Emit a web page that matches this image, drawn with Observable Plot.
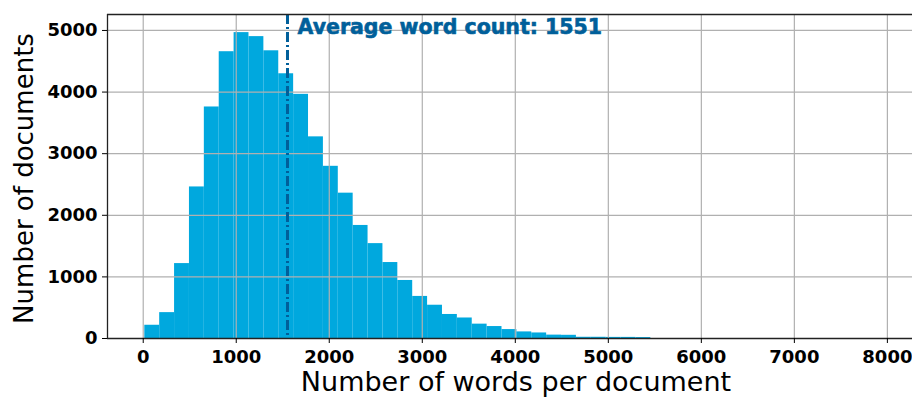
<!DOCTYPE html>
<html><head><meta charset="utf-8">
<script src="https://cdn.jsdelivr.net/npm/d3@7"></script>
<script src="https://cdn.jsdelivr.net/npm/@observablehq/plot@0.6"></script>
<style>body{margin:0;background:#fff} svg{display:block}</style>
</head><body><div id="chart"></div>
<script>
// Histogram bin lower/upper edges (words per document)
const binEdges = [17,177,337,497,657,817,977,1137,1297,1457,1617,1777,1937,2097,2257,2417,2577,2737,2897,3057,3217,3377,3537,3697,3857,4017,4177,4337,4497,4657,4817,4977,5137,5297,5457];
// Number of documents in each bin
const counts = [215,420,1216,2460,3758,4655,4965,4900,4670,4297,3963,3273,2795,2359,1835,1540,1233,942,683,540,390,333,233,194,145,107,90,55,52,20,20,18,18,15];
const averageWordCount = 1551;
const xTicks = [0,1000,2000,3000,4000,5000,6000,7000,8000];
const yTicks = [0,1000,2000,3000,4000,5000];
const xLabel = "Number of words per document";
const yLabel = "Number of documents";
const avgLabel = "Average word count: " + averageWordCount;

const bins = counts.map((c, i) => ({x1: binEdges[i], x2: binEdges[i + 1], count: c}));
const xDomain = [-384, 8270];
const yDomain = [0, 5259];
const spine = {stroke: "#222", strokeWidth: 1.3};

const chart = Plot.plot({
  width: 912, height: 398,
  marginLeft: 107, marginRight: 0, marginTop: 14, marginBottom: 60,
  style: {fontFamily: "DejaVu Sans", background: "#fff", color: "#000"},
  x: {domain: xDomain},
  y: {domain: yDomain},
  marks: [
    Plot.rectY(bins, {x1: "x1", x2: "x2", y: "count", fill: "#00A8DE"}),
    Plot.gridX(xTicks, {stroke: "#b0b0b0", strokeOpacity: 1, strokeWidth: 1.2}),
    Plot.gridY(yTicks, {stroke: "#b0b0b0", strokeOpacity: 1, strokeWidth: 1.2}),
    Plot.ruleX([averageWordCount], {stroke: "#005F9A", strokeWidth: 3, strokeDasharray: "10,3,2,3"}),
    Plot.ruleX([xDomain[0]], spine),
    Plot.ruleY([yDomain[0]], spine),
    Plot.ruleY([yDomain[1]], spine),
    Plot.axisX(xTicks, {tickSize: 5, tickPadding: 7, fontSize: 18, fontWeight: "bold", label: null, tickFormat: d => String(d)}),
    Plot.axisY(yTicks, {tickSize: 5, tickPadding: 5, fontSize: 18, fontWeight: "bold", label: null, tickFormat: d => String(d)}),
    Plot.text([xLabel], {text: d => d, frameAnchor: "bottom", textAnchor: "middle", dx: 6, dy: 44, fontSize: 27, lineAnchor: "middle"}),
    Plot.text([yLabel], {text: d => d, frameAnchor: "left", textAnchor: "middle", rotate: -90, dx: -83, dy: 2, fontSize: 26, lineAnchor: "middle"}),
    Plot.text([{x: averageWordCount, label: avgLabel}], {x: "x", text: "label", frameAnchor: "top", textAnchor: "start", lineAnchor: "top", dx: 10, dy: 5, fontSize: 20.5, fontWeight: "bold", fill: "#005F9A", stroke: "#005F9A", strokeWidth: 0.6})
  ]
});
document.getElementById("chart").appendChild(chart);
</script>
</body></html>
